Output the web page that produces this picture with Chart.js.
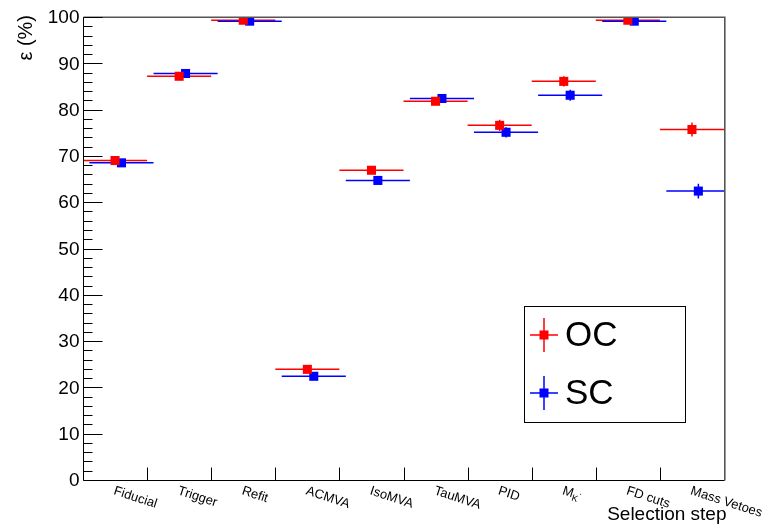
<!DOCTYPE html>
<html>
<head>
<meta charset="utf-8">
<script src="https://cdn.jsdelivr.net/npm/chart.js@4"></script>
<style>
html,body{margin:0;padding:0;background:#fff;}
#wrap{width:768px;height:528px;}
</style>
</head>
<body>
<div id="wrap"><canvas id="c" width="768" height="528"></canvas></div>
<script>
const categories = ["Fiducial","Trigger","Refit","ACMVA","IsoMVA","TauMVA","PID","M_K","FD cuts","Mass Vetoes"];
const ocValues = [69.0, 87.2, 99.3, 23.9, 66.9, 81.8, 76.6, 86.1, 99.3, 75.7];
const ocErrors = [0.5, 0.5, 0.3, 0.5, 0.6, 0.7, 1.2, 1.1, 0.3, 1.5];
const scValues = [68.5, 87.8, 99.1, 22.4, 64.7, 82.4, 75.1, 83.1, 99.1, 62.4];
const scErrors = [0.5, 0.5, 0.3, 0.5, 0.6, 0.8, 1.1, 1.2, 0.3, 1.6];
const yTicks = [0,10,20,30,40,50,60,70,80,90,100];
const seriesNames = ["OC","SC"];
const seriesColors = ["#ff0000","#0000ff"];
const seriesShift = [0.5, 0.6];

const FONT = "'Liberation Sans', Arial, Helvetica, sans-serif";

function makeData(vals, errs, shift){
  return vals.map((v,i)=>({x:i+shift, y:v, e:errs[i]}));
}

const datasets = [
  {label: seriesNames[0], data: makeData(ocValues, ocErrors, seriesShift[0]), backgroundColor: seriesColors[0], borderColor: seriesColors[0], pointStyle:'rect', pointRadius:6.4, pointBorderWidth:0, pointHoverRadius:6.4},
  {label: seriesNames[1], data: makeData(scValues, scErrors, seriesShift[1]), backgroundColor: seriesColors[1], borderColor: seriesColors[1], pointStyle:'rect', pointRadius:6.4, pointBorderWidth:0, pointHoverRadius:6.4}
];

const errorBars = {
  id:'errorBars',
  beforeDatasetsDraw(chart){
    const ctx = chart.ctx, xs = chart.scales.x, ys = chart.scales.y;
    const area = chart.chartArea;
    ctx.save();
    ctx.beginPath(); ctx.rect(area.left, area.top-10, area.right-area.left, area.bottom-area.top+10); ctx.clip();
    chart.data.datasets.forEach(ds=>{
      ctx.strokeStyle = ds.borderColor;
      ctx.lineWidth = 1.5;
      ds.data.forEach(p=>{
        const x0 = xs.getPixelForValue(p.x-0.5), x1 = xs.getPixelForValue(p.x+0.5);
        const yc = ys.getPixelForValue(p.y);
        const xc = xs.getPixelForValue(p.x);
        const ya = ys.getPixelForValue(p.y-p.e), yb = ys.getPixelForValue(p.y+p.e);
        ctx.beginPath();
        ctx.moveTo(x0, yc); ctx.lineTo(x1, yc);
        ctx.moveTo(xc, ya); ctx.lineTo(xc, yb);
        ctx.stroke();
      });
    });
    ctx.restore();
  }
};

const frameAxes = {
  id:'frameAxes',
  afterDatasetsDraw(chart){
    const ctx = chart.ctx, xs = chart.scales.x, ys = chart.scales.y;
    const a = chart.chartArea;
    const L = Math.round(a.left)+0.5, R = Math.round(a.right)+0.5, T = Math.round(a.top)+0.5, B = Math.round(a.bottom)+0.5;
    ctx.save();
    // frame (top/right greyish as in reference)
    ctx.strokeStyle = '#555';
    ctx.lineWidth = 1.6;
    ctx.beginPath();
    ctx.moveTo(L,T-0.3); ctx.lineTo(R+0.3,T-0.3); ctx.lineTo(R+0.3,B);
    ctx.stroke();
    ctx.strokeStyle = '#000';
    ctx.lineWidth = 1;
    ctx.beginPath();
    ctx.moveTo(L,T); ctx.lineTo(L,B); ctx.lineTo(R,B);
    ctx.stroke();
    // y ticks
    ctx.beginPath();
    for(let v=0; v<=100; v+=2){
      const y = Math.round(ys.getPixelForValue(v))+0.5;
      const len = (v%10===0)?19:9;
      ctx.moveTo(L,y); ctx.lineTo(L+len,y);
    }
    // x ticks at bin edges
    for(let i=1;i<categories.length;i++){
      const x = Math.round(xs.getPixelForValue(i))+0.5;
      ctx.moveTo(x,B); ctx.lineTo(x,B-13);
    }
    ctx.stroke();
    // y tick labels
    ctx.fillStyle = '#000';
    ctx.font = '19px '+FONT;
    ctx.textAlign = 'right';
    ctx.textBaseline = 'middle';
    yTicks.forEach(v=>{
      ctx.fillText(String(v), L-4, ys.getPixelForValue(v)+1);
    });
    // x category labels, rotated
    const ang = 18*Math.PI/180;
    categories.forEach((c,i)=>{
      const x = xs.getPixelForValue(i+0.5)+1;
      const y = B+4;
      ctx.save();
      ctx.translate(x,y);
      ctx.rotate(ang);
      ctx.textAlign='left';
      ctx.textBaseline='top';
      if(c==="M_K"){
        ctx.font='13px '+FONT;
        ctx.fillText('M',0,0);
        const w = ctx.measureText('M').width;
        ctx.font='9px '+FONT;
        ctx.fillText('K',w,6);
        ctx.fillText('\u00b7',w+6,0);
      } else {
        ctx.font='13px '+FONT;
        ctx.fillText(c,0,0);
      }
      ctx.restore();
    });
    // axis titles
    ctx.font='19px '+FONT;
    ctx.textAlign='right';
    ctx.textBaseline='alphabetic';
    ctx.fillText('Selection step', R+2, 520);
    ctx.save();
    ctx.translate(32, 15);
    ctx.rotate(-Math.PI/2);
    ctx.font='20px '+FONT;
    ctx.textAlign='right';
    ctx.textBaseline='alphabetic';
    ctx.fillText('\u03b5 (%)', 0, 0);
    ctx.restore();
    // legend
    ctx.lineWidth=1;
    ctx.strokeStyle='#000';
    ctx.strokeRect(524.5,306.5,161,116);
    const rowsY=[335,393];
    chart.data.datasets.forEach((ds,k)=>{
      const cy=rowsY[k], cx=544;
      ctx.strokeStyle=ds.borderColor;
      ctx.lineWidth=1.5;
      ctx.beginPath();
      ctx.moveTo(530,cy); ctx.lineTo(558,cy);
      ctx.moveTo(cx,cy-17); ctx.lineTo(cx,cy+17);
      ctx.stroke();
      ctx.fillStyle=ds.backgroundColor;
      ctx.fillRect(cx-4.5,cy-4.5,9,9);
      ctx.fillStyle='#000';
      ctx.font='35px '+FONT;
      ctx.textAlign='left';
      ctx.textBaseline='middle';
      ctx.fillText(ds.label,565,cy+1);
    });
    ctx.restore();
  }
};

new Chart(document.getElementById('c'),{
  type:'scatter',
  data:{datasets},
  options:{
    responsive:false,
    animation:false,
    layout:{padding:{left:83,right:44,top:17,bottom:48}},
    plugins:{legend:{display:false},tooltip:{enabled:false}},
    scales:{
      x:{type:'linear',min:0,max:categories.length,display:false},
      y:{type:'linear',min:0,max:100,display:false}
    }
  },
  plugins:[errorBars, frameAxes]
});
</script>
</body>
</html>
